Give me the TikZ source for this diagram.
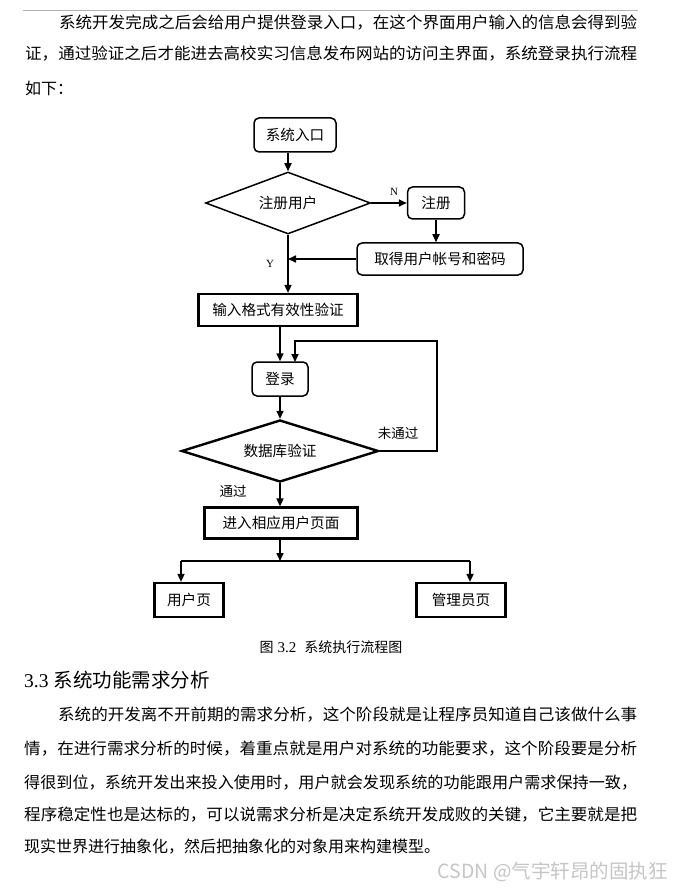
\documentclass[tikz,border=0pt]{standalone}
\usepackage{fontspec}
\usepackage{graphicx}
\setmainfont{Noto Sans CJK SC}
\newfontfamily\serifnum{Liberation Serif}
\usetikzlibrary{shapes.geometric,arrows.meta}
\newcommand{\jl}[2]{\resizebox{#1}{\height}{#2}}
\begin{document}
\begin{tikzpicture}[x=1pt,y=-1pt,
  bt/.style={anchor=west, inner sep=0pt, font=\fontsize{16}{16}\selectfont},
  rbox/.style={draw, line width=1.5pt, rounded corners=5pt, inner sep=0pt, font=\fontsize{14.6}{14.6}\selectfont},
  sbox/.style={draw, line width=2.2pt, inner sep=0pt, font=\fontsize{14.6}{14.6}\selectfont},
  dia/.style={draw, diamond, aspect=2.8, inner sep=0pt, font=\fontsize{14.6}{14.6}\selectfont},
  arr/.style={line width=1.6pt, -{Triangle[length=8pt,width=7pt]}},
  ln/.style={line width=1.6pt},
  lbl/.style={inner sep=0pt, font=\fontsize{13.5}{13.5}\selectfont},
  yn/.style={inner sep=0pt, font=\serifnum\fontsize{11}{11}\selectfont}]
\useasboundingbox (0,0) rectangle (685,890);
\fill[white] (0,0) rectangle (685,890);

% top rule and intro text
\draw[gray!60, line width=1pt] (23,11) -- (638,11);
\node[bt] (t1) at (59,23) {\jl{578pt}{系统开发完成之后会给用户提供登录入口，在这个界面用户输入的信息会得到验}};
\node[bt] (t2) at (25,54) {\jl{612pt}{证，通过验证之后才能进去高校实习信息发布网站的访问主界面，系统登录执行流程}};
\node[bt] (t3) at (25,88) {如下：};

% flowchart nodes
\node[rbox, minimum width=82pt, minimum height=34pt] (entry) at (295,135) {系统入口};
\node[dia, line width=1.5pt, minimum width=165pt, minimum height=62pt] (d1) at (288,203) {注册用户};
\node[rbox, minimum width=57pt, minimum height=32pt] (reg) at (436,203) {注册};
\node[rbox, minimum width=166pt, minimum height=32pt] (get) at (440,259) {取得用户帐号和密码};
\node[sbox, minimum width=159pt, minimum height=32pt] (fmt) at (278,310) {输入格式有效性验证};
\node[rbox, minimum width=56pt, minimum height=34pt] (login) at (280,379) {登录};
\node[dia, line width=2.4pt, minimum width=197pt, minimum height=62pt] (d2) at (280,451) {数据库验证};
\node[sbox, minimum width=153pt, minimum height=31pt] (enter) at (281,523) {进入相应用户页面};
\node[sbox, minimum width=69pt, minimum height=34pt] (user) at (189,600) {用户页};
\node[sbox, minimum width=89pt, minimum height=34pt] (admin) at (461,600) {管理员页};

% connectors
\draw[arr] (entry.south -| d1.north) -- (d1.north);
\draw[arr] (d1.east) -- (reg.west);
\node[yn] (lN) at (394,192) {N};
\draw[arr] (reg.south) -- (reg.south |- get.north);
\draw[arr] (get.west) -- (get.west -| d1.south);
\draw[arr] (d1.south) -- (d1.south |- fmt.north);
\node[yn] (lY) at (270,264) {Y};
\draw[arr] (login.north |- fmt.south) -- (login.north);
\coordinate (lp) at (437,341);
\coordinate (lin) at (295,362);
\draw[arr] (d2.east) -| (lp) -| (lin);
\node[lbl] (lno) at (398,433) {未通过};
\draw[arr] (login.south) -- (d2.north);
\draw[arr] (d2.south) -- (d2.south |- enter.north);
\node[lbl] (lyes) at (233,491) {通过};
\coordinate (j) at (280,561);
\coordinate (ju) at (181,561);
\coordinate (ja) at (470,561);
\draw[arr] (enter.south -| j) -- (j);
\draw[ln] (ju) -- (ja);
\draw[arr] (ju) -- (ju |- user.north);
\draw[arr] (ja) -- (ja |- admin.north);

% caption
\node[inner sep=0pt, font=\fontsize{14}{14}\selectfont] (cap) at (331,647) {图\hspace{4pt}{\serifnum\fontsize{15}{15}\selectfont 3.2}\hspace{8pt}系统执行流程图};

% section heading and paragraph
\node[anchor=west, inner sep=0pt, font=\fontsize{19.5}{19.5}\selectfont] (h) at (24,680) {{\serifnum 3.3}\hspace{5pt}系统功能需求分析};
\node[bt] (p1) at (58,715) {\jl{579pt}{系统的开发离不开前期的需求分析，这个阶段就是让程序员知道自己该做什么事}};
\node[bt] (p2) at (24,749) {\jl{613pt}{情，在进行需求分析的时候，着重点就是用户对系统的功能要求，这个阶段要是分析}};
\node[bt] (p3) at (24,783) {\jl{613pt}{得很到位，系统开发出来投入使用时，用户就会发现系统的功能跟用户需求保持一致，}};
\node[bt] (p4) at (24,815) {\jl{613pt}{程序稳定性也是达标的，可以说需求分析是决定系统开发成败的关键，它主要就是把}};
\node[bt] (p5) at (24,847) {现实世界进行抽象化，然后把抽象化的对象用来构建模型。};

% watermark
\node[anchor=east, inner sep=0pt, text=gray!45, font=\fontsize{19.5}{19.5}\selectfont] (wm) at (668,872) {CSDN @气宇轩昂的固执狂};
\end{tikzpicture}
\end{document}
